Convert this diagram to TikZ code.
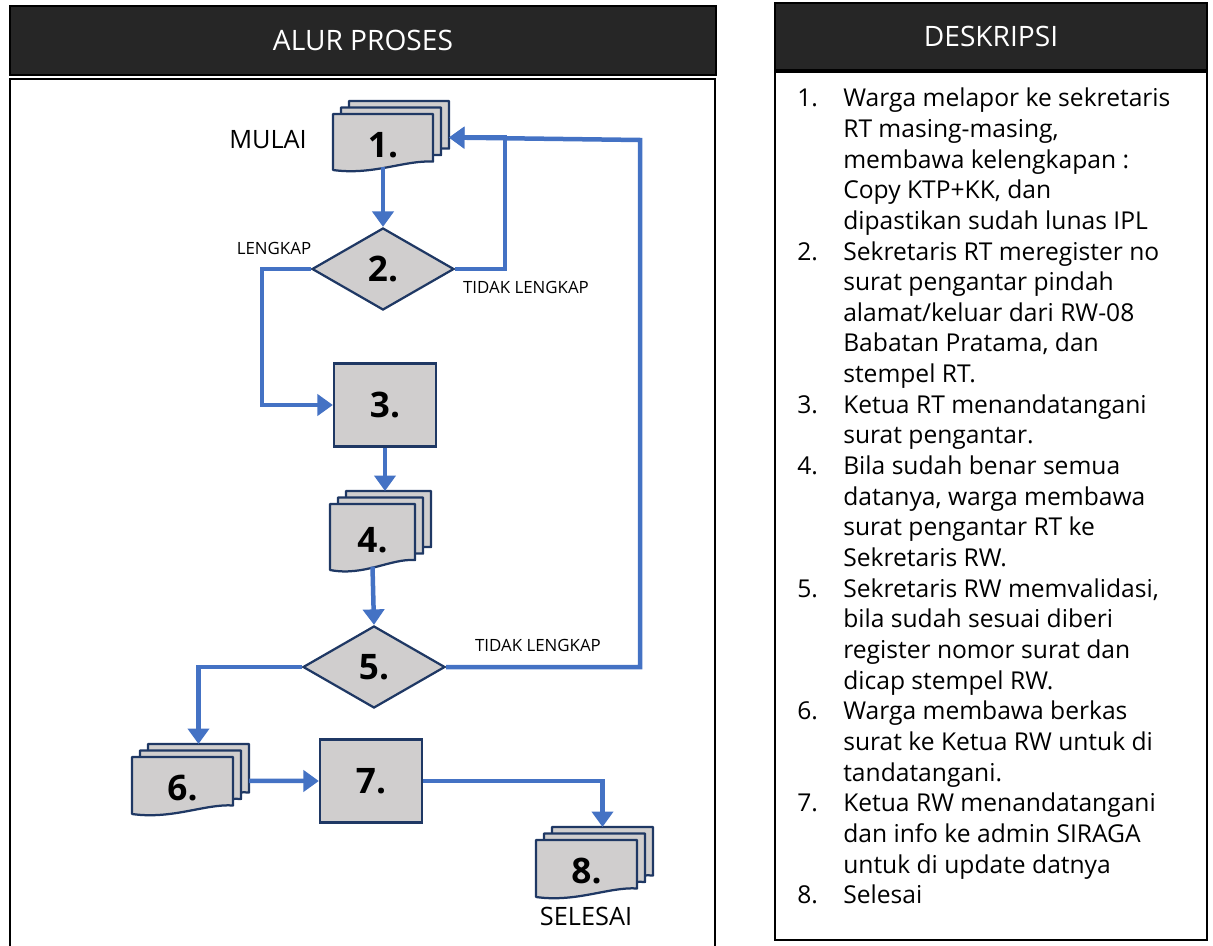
\documentclass[tikz,border=0pt]{standalone}
\usepackage{fontspec}
\setmainfont{Open Sans}
\newfontfamily\headfont{Open Sans}
\usetikzlibrary{calc}
\usetikzlibrary{positioning}
\usetikzlibrary{shapes.geometric}
\usetikzlibrary{arrows.meta}
\definecolor{headgray}{HTML}{262626}
\definecolor{boxgray}{HTML}{D0CECE}
\definecolor{boxline}{HTML}{1F3864}
\definecolor{flowblue}{HTML}{4472C4}
\newcommand\numfont{\headfont\bfseries\fontsize{25}{30}\selectfont}
\tikzset{
  header/.style = {draw=black, fill=headgray, line width=1pt, text=white,
    font=\headfont\fontsize{20}{24}\selectfont},
  panel/.style = {draw=black, line width=1.5pt},
  docshape/.style = {draw=boxline, fill=boxgray, line width=1.6pt,
    line join=round},
  proc_node/.style = {draw=boxline, fill=boxgray, line width=1.6pt,
    minimum width=2.55cm, minimum height=2.075cm, font=\numfont},
  dec_node/.style = {diamond, draw=boxline, fill=boxgray, line width=1.6pt,
    minimum width=3.55cm, minimum height=2.05cm, inner sep=0pt, font=\numfont},
  num_label/.style = {font=\numfont},
  side_label/.style = {font=\headfont\fontsize{12}{14}\selectfont},
  big_label/.style = {font=\headfont\fontsize{18}{22}\selectfont},
  flowline/.style = {draw=flowblue, line width=3.2pt},
  flow/.style = {flowline, -{Triangle[width=15pt,length=11pt]}}
}
% #1 name, (#2,#3) top left of front sheet, #4 width, #5 height, #6 label
\newcommand\docstack[6]{%
  \begin{scope}[shift={(#2,#3)}]
    \foreach \k in {2,1}
      \path[docshape, shift={(8*\k,-6.5*\k)}] (0,0) -- (#4,0) -- (#4,#5*0.85)
        .. controls (#4*0.72,#5*0.82) and (#4*0.4,#5*1.1) .. (0,#5) -- cycle;
    \path[docshape] (0,0) -- (#4,0) -- (#4,#5*0.85)
      .. controls (#4*0.72,#5*0.82) and (#4*0.4,#5*1.1) .. (0,#5) -- cycle;
    \node[num_label] (#1) at (#4/2,#5/2+3) {#6};
    \coordinate (#1-top) at (#4/2+16,-13);
    \coordinate (#1-bot) at (#4/2,#5*0.95);
    \coordinate (#1-east) at (#4+16,#5*0.42);
  \end{scope}}

\begin{document}
\begin{tikzpicture}[x=0.025cm, y=-0.025cm]
  \useasboundingbox (0,0) rectangle (1213,946);

  % panels
  \draw[panel] (10,79) rectangle (715,952);
  \draw[panel] (775,72) rectangle (1207,940);
  \node[header, minimum width=17.65cm, minimum height=1.725cm] (hdrL) at (363,40.5) {ALUR PROSES};
  \node[header, minimum width=10.8cm, minimum height=1.675cm] (hdrR) at (991,36.5) {DESKRIPSI};

  % flow chart
  \docstack{d1}{333}{114}{100}{56}{1.}
  \node[dec_node] (dec2) at (383,269) {2.};
  \node[proc_node] (box3) at (385,405) {3.};
  \docstack{d4}{330}{504}{85}{66}{4.}
  \node[dec_node] (dec5) at (374,667) {5.};
  \docstack{d6}{132}{757}{101}{57}{6.}
  \node[proc_node] (box7) at (371,781) {7.};
  \docstack{d8}{536}{840}{101}{57}{8.}

  \node[big_label] (start) at (268,140) {MULAI};
  \node[big_label] (finish) at (586,916) {SELESAI};
  \node[side_label] (ok2) at (274,248) {LENGKAP};
  \node[side_label] (nok2) at (526,287) {TIDAK LENGKAP};
  \node[side_label] (nok5) at (538,645) {TIDAK LENGKAP};

  \coordinate (ret) at (640,140);
  \draw[flow] (d1-bot) -- (dec2.north);
  \draw[flow] (dec2.east) -- ++(50,0) |- (d1-east);
  \draw[flow] (dec2.west) -- ++(-49,0) |- (box3.west);
  \draw[flow] (box3.south) -- (box3.south |- d4-top);
  \draw[flow] (d4-bot) -- (dec5.north);
  \draw[flow] (dec5.east) -| (ret) -- (d1-east);
  \draw[flow] (dec5.west) -| (d6-top);
  \draw[flow] (d6-east) -- (box7.west);
  \draw[flow] (box7.east) -| (d8-top);

  % description list
  \node[anchor=north west, inner sep=0pt, font=\fontsize{17.5}{21.8}\selectfont] (desc) at (797,85) {%
    \begin{tabular}{@{}p{1.15cm}@{}l@{}}
    1. & Warga melapor ke sekretaris\\
       & RT masing-masing,\\
       & membawa kelengkapan :\\
       & Copy KTP+KK, dan\\
       & dipastikan sudah lunas IPL\\
    2. & Sekretaris RT meregister no\\
       & surat pengantar pindah\\
       & alamat/keluar dari RW-08\\
       & Babatan Pratama, dan\\
       & stempel RT.\\
    3. & Ketua RT menandatangani\\
       & surat pengantar.\\
    4. & Bila sudah benar semua\\
       & datanya, warga membawa\\
       & surat pengantar RT ke\\
       & Sekretaris RW.\\
    5. & Sekretaris RW memvalidasi,\\
       & bila sudah sesuai diberi\\
       & register nomor surat dan\\
       & dicap stempel RW.\\
    6. & Warga membawa berkas\\
       & surat ke Ketua RW untuk di\\
       & tandatangani.\\
    7. & Ketua RW menandatangani\\
       & dan info ke admin SIRAGA\\
       & untuk di update datnya\\
    8. & Selesai
    \end{tabular}};
\end{tikzpicture}
\end{document}
